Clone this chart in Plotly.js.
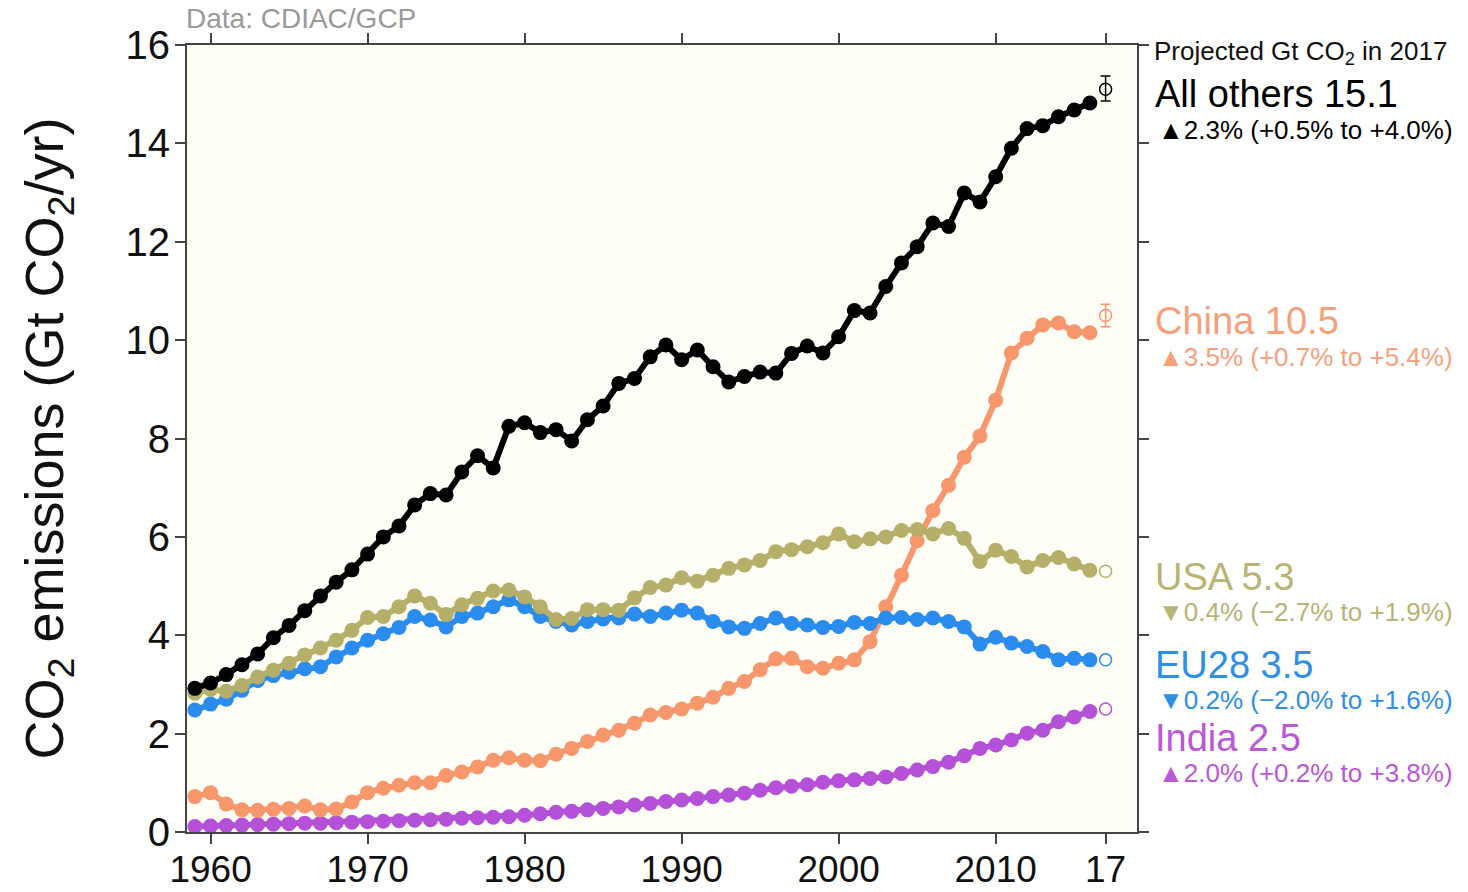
<!DOCTYPE html>
<html>
<head>
<meta charset="utf-8">
<script src="https://cdn.plot.ly/plotly-3.0.1.min.js"></script>
<style>
  html, body { margin: 0; padding: 0; background: #ffffff; }
  #chart { width: 1468px; height: 892px; }
</style>
</head>
<body>
<div id="chart"></div>
<script>
// ---- Data (Gt CO2 / yr), 1959-2016, plus 2017 projections ----
const years = [];
for (let y = 1959; y <= 2016; y++) years.push(y);

const allOthers = [2.92, 3.03, 3.2, 3.4, 3.62, 3.95, 4.2, 4.5, 4.8, 5.08,
  5.33, 5.65, 6.0, 6.22, 6.65, 6.88, 6.85, 7.32, 7.65, 7.4,
  8.25, 8.32, 8.12, 8.18, 7.95, 8.38, 8.66, 9.12, 9.22, 9.66,
  9.9, 9.6, 9.8, 9.46, 9.15, 9.26, 9.35, 9.33, 9.73, 9.88,
  9.74, 10.07, 10.6, 10.55, 11.09, 11.57, 11.9, 12.38, 12.31, 12.99,
  12.81, 13.32, 13.9, 14.3, 14.36, 14.54, 14.68, 14.82];

const china = [0.72, 0.8, 0.57, 0.45, 0.44, 0.46, 0.48, 0.53, 0.45, 0.47,
  0.61, 0.8, 0.89, 0.95, 1.0, 1.0, 1.15, 1.22, 1.32, 1.46,
  1.51, 1.46, 1.45, 1.58, 1.7, 1.84, 1.97, 2.07, 2.21, 2.38,
  2.43, 2.5, 2.62, 2.74, 2.92, 3.06, 3.3, 3.52, 3.53, 3.36,
  3.33, 3.43, 3.5, 3.87, 4.58, 5.22, 5.92, 6.53, 7.05, 7.62,
  8.05, 8.78, 9.74, 10.04, 10.31, 10.35, 10.17, 10.15];

const usa = [2.82, 2.9, 2.86, 2.98, 3.15, 3.29, 3.43, 3.6, 3.74, 3.9,
  4.1, 4.36, 4.38, 4.58, 4.8, 4.65, 4.42, 4.62, 4.75, 4.9,
  4.92, 4.78, 4.58, 4.32, 4.34, 4.52, 4.52, 4.51, 4.76, 4.97,
  5.02, 5.17, 5.1, 5.22, 5.36, 5.43, 5.52, 5.7, 5.74, 5.8,
  5.88, 6.06, 5.9, 5.96, 6.0, 6.13, 6.15, 6.06, 6.17, 5.97,
  5.5, 5.73, 5.6, 5.39, 5.52, 5.58, 5.45, 5.32];

const eu28 = [2.48, 2.6, 2.7, 2.88, 3.08, 3.18, 3.25, 3.32, 3.36, 3.56,
  3.74, 3.9, 4.03, 4.16, 4.38, 4.31, 4.17, 4.38, 4.45, 4.58,
  4.72, 4.58, 4.38, 4.28, 4.21, 4.28, 4.33, 4.35, 4.43, 4.38,
  4.45, 4.51, 4.45, 4.28, 4.17, 4.14, 4.24, 4.35, 4.24, 4.21,
  4.16, 4.18, 4.26, 4.24, 4.35, 4.36, 4.32, 4.35, 4.28, 4.17,
  3.82, 3.96, 3.84, 3.77, 3.67, 3.5, 3.53, 3.5];

const india = [0.11, 0.12, 0.13, 0.14, 0.15, 0.16, 0.17, 0.18, 0.18, 0.19,
  0.2, 0.21, 0.22, 0.23, 0.24, 0.25, 0.26, 0.28, 0.29, 0.3,
  0.31, 0.34, 0.37, 0.4, 0.42, 0.45, 0.48, 0.51, 0.55, 0.58,
  0.62, 0.65, 0.68, 0.72, 0.75, 0.79, 0.85, 0.9, 0.93, 0.96,
  1.01, 1.04, 1.06, 1.09, 1.12, 1.19, 1.26, 1.33, 1.42, 1.55,
  1.7, 1.77, 1.87, 2.01, 2.07, 2.24, 2.34, 2.45];

const projYear = 2017;
const projNames  = ["All others", "China", "USA", "EU28", "India"];
const projValues = [15.1, 10.5, 5.3, 3.5, 2.5];
const projErrPlus  = [0.27, 0.23, 0, 0, 0];
const projErrMinus = [0.24, 0.23, 0, 0, 0];
const growthText = [
  "\u25B22.3% (+0.5% to +4.0%)",
  "\u25B23.5% (+0.7% to +5.4%)",
  "\u25BC0.4% (\u22122.7% to +1.9%)",
  "\u25BC0.2% (\u22122.0% to +1.6%)",
  "\u25B22.0% (+0.2% to +3.8%)"
];

const xTickVals = [1960, 1970, 1980, 1990, 2000, 2010, 2017];
const xTickText = ["1960", "1970", "1980", "1990", "2000", "2010", "17"];
const yTickVals = [0, 2, 4, 6, 8, 10, 12, 14, 16];

// ---- Styles ----
const colors = {
  "All others": "#000000",
  "China": "#F8966C",
  "USA": "#B5AF6A",
  "EU28": "#2A8CEE",
  "India": "#B550D8"
};
const textColors = {
  "All others": "#000000",
  "China": "#F7A07C",
  "USA": "#B9B374",
  "EU28": "#2E8FEA",
  "India": "#BA58D8"
};
const seriesData = {
  "All others": allOthers, "China": china, "USA": usa, "EU28": eu28, "India": india
};
const drawOrder = ["India", "China", "EU28", "USA", "All others"];

const traces = [];
drawOrder.forEach(name => {
  traces.push({
    x: years, y: seriesData[name], type: "scatter", mode: "lines+markers",
    name: name, showlegend: false, hoverinfo: "x+y+name",
    line: { color: colors[name], width: 6 },
    marker: { color: colors[name], size: 15 }
  });
});
projNames.forEach((name, i) => {
  const t = {
    x: [projYear], y: [projValues[i]], type: "scatter", mode: "markers",
    name: name + " 2017", showlegend: false,
    marker: { color: "rgba(255,255,255,0)", size: 12, line: { color: colors[name], width: 1.5 } }
  };
  if (projErrPlus[i] > 0) {
    t.error_y = { type: "data", symmetric: false, array: [projErrPlus[i]], arrayminus: [projErrMinus[i]],
      color: colors[name], thickness: 1.5, width: 5 };
  }
  traces.push(t);
});

// ---- Layout ----
const L = 187, R = 1137, T = 45, B = 832;
const W = R - L, H = B - T;
const px = v => (v - L) / W;
const py = v => (B - v) / H;

const annotations = [
  { text: "Data: CDIAC/GCP", x: px(184), y: py(18), xanchor: "left", yanchor: "middle",
    font: { size: 28, color: "#9a9a9a" } },
  { text: "Projected Gt CO<sub>2</sub> in 2017", x: px(1152), y: py(53), xanchor: "left", yanchor: "middle",
    font: { size: 26, color: "#111111" } }
];
const labelY = [94, 321, 577, 665, 738];
const subY   = [130, 357, 612, 700, 773];
projNames.forEach((name, i) => {
  annotations.push({ text: name + " " + projValues[i].toFixed(1), x: px(1153), y: py(labelY[i]),
    xanchor: "left", yanchor: "middle", font: { size: 38, color: textColors[name] } });
  annotations.push({ text: growthText[i], x: px(1156), y: py(subY[i]),
    xanchor: "left", yanchor: "middle", font: { size: 26, color: textColors[name] } });
});
annotations.forEach(a => { a.xref = "paper"; a.yref = "paper"; a.showarrow = false; });

const layout = {
  width: 1468, height: 892,
  margin: { l: L, r: 1468 - R, t: T, b: 892 - B, pad: 0 },
  paper_bgcolor: "#ffffff",
  plot_bgcolor: "#FFFEF6",
  font: { family: "Liberation Sans, Arial, Helvetica, sans-serif", color: "#111111" },
  showlegend: false,
  xaxis: {
    range: [1958.5, 2019], tickvals: xTickVals, ticktext: xTickText,
    showgrid: false, zeroline: false,
    showline: true, linecolor: "#444444", linewidth: 2, mirror: "ticks",
    ticks: "outside", ticklen: 10, tickwidth: 2, tickcolor: "#444444",
    ticklabelstandoff: -6,
    tickfont: { size: 37, color: "#111111" }
  },
  yaxis: {
    range: [0, 16], tickvals: yTickVals,
    showgrid: false, zeroline: false,
    showline: true, linecolor: "#444444", linewidth: 2, mirror: "ticks",
    ticks: "outside", ticklen: 10, tickwidth: 2, tickcolor: "#444444",
    ticklabelstandoff: -3,
    tickfont: { size: 40, color: "#111111" },
    title: { text: "CO<sub>2</sub> emissions (Gt CO<sub>2</sub>/yr)", font: { size: 54, color: "#111111" }, standoff: 45 }
  },
  annotations: annotations
};

Plotly.newPlot("chart", traces, layout, { displayModeBar: false, staticPlot: true });
</script>
</body>
</html>
